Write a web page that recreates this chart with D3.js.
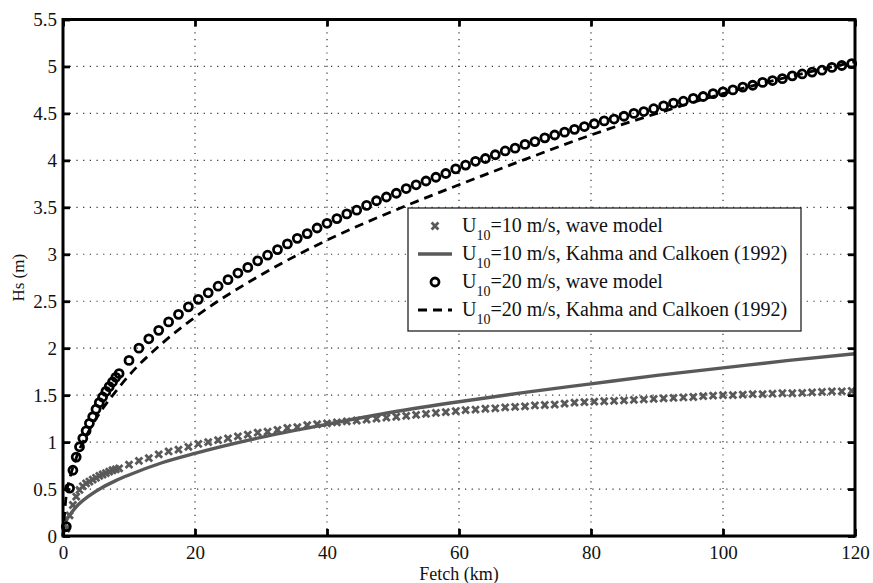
<!DOCTYPE html>
<html>
<head>
<meta charset="utf-8">
<script src="https://cdn.jsdelivr.net/npm/d3@7"></script>
<style>
    body { margin: 0; background: #fff; }
    svg { display: block; font-family: "Liberation Serif", "Times New Roman", serif; }
</style>
</head>
<body>
<div id="container"><svg></svg></div>
<script>
// fetch (km) of the wave model output points
let fetch_model = [0.5, 1, 1.5, 2, 2.5, 3, 3.5, 4, 4.5, 5, 5.5, 6, 6.5, 7, 7.5, 8, 8.5,
    10, 11.5, 13, 14.5, 16, 17.5, 19, 20.5, 22, 23.5, 25, 26.5, 28, 29.5, 31, 32.5, 34, 35.5,
    37, 38.5, 40, 41.5, 43, 44.5, 46, 47.5, 49, 50.5, 52, 53.5, 55, 56.5, 58, 59.5, 61, 62.5,
    64, 65.5, 67, 68.5, 70, 71.5, 73, 74.5, 76, 77.5, 79, 80.5, 82, 83.5, 85, 86.5, 88, 89.5,
    91, 92.5, 94, 95.5, 97, 98.5, 100, 101.5, 103, 104.5, 106, 107.5, 109, 110.5, 112, 113.5,
    115, 116.5, 118, 119.5];

// U10 = 10 m/s, wave model
let hs10_model = [0.08, 0.22, 0.33, 0.42, 0.49, 0.53, 0.56, 0.58, 0.60, 0.62, 0.64, 0.655, 0.67, 0.685, 0.70, 0.71, 0.72,
    0.76, 0.80, 0.83, 0.87, 0.90, 0.92, 0.95, 0.98, 1.00, 1.02, 1.04, 1.06, 1.08, 1.10, 1.11, 1.13, 1.15, 1.16,
    1.18, 1.19, 1.20, 1.21, 1.22, 1.23, 1.24, 1.25, 1.26, 1.27, 1.28, 1.29, 1.30, 1.31, 1.32, 1.33, 1.34, 1.345,
    1.355, 1.36, 1.37, 1.375, 1.38, 1.39, 1.395, 1.40, 1.41, 1.42, 1.425, 1.43, 1.435, 1.44, 1.445, 1.45, 1.455, 1.46,
    1.465, 1.47, 1.475, 1.48, 1.49, 1.495, 1.50, 1.50, 1.505, 1.51, 1.51, 1.515, 1.52, 1.52, 1.525, 1.53,
    1.535, 1.54, 1.54, 1.545];

// U10 = 20 m/s, wave model
let hs20_model = [0.10, 0.51, 0.70, 0.84, 0.95, 1.04, 1.12, 1.20, 1.27, 1.35, 1.42, 1.48, 1.54, 1.59, 1.64, 1.69, 1.73,
    1.87, 2.00, 2.10, 2.19, 2.28, 2.36, 2.44, 2.52, 2.59, 2.66, 2.73, 2.80, 2.86, 2.93, 2.99, 3.05, 3.11, 3.17,
    3.22, 3.28, 3.33, 3.38, 3.43, 3.47, 3.52, 3.57, 3.61, 3.65, 3.70, 3.74, 3.78, 3.82, 3.86, 3.91, 3.95, 3.99,
    4.02, 4.06, 4.10, 4.13, 4.17, 4.20, 4.24, 4.27, 4.30, 4.33, 4.36, 4.39, 4.42, 4.44, 4.47, 4.50, 4.52, 4.55,
    4.58, 4.61, 4.63, 4.66, 4.68, 4.71, 4.73, 4.75, 4.78, 4.80, 4.83, 4.85, 4.87, 4.90, 4.92, 4.94,
    4.96, 4.99, 5.01, 5.03];

// Kahma and Calkoen (1992) curves
let fetch_kc = [0, 0.5, 1, 2, 4, 6, 8, 10, 15, 20, 30, 40, 50, 60, 70, 80, 90, 100, 110, 120];
let hs10_kc = [0, 0.16, 0.22, 0.31, 0.43, 0.52, 0.59, 0.65, 0.78, 0.88, 1.05, 1.19, 1.32, 1.43, 1.53, 1.62, 1.71, 1.79, 1.87, 1.94];
let hs20_kc = [0, 0.44, 0.605, 0.83, 1.13, 1.355, 1.54, 1.71, 2.05, 2.33, 2.78, 3.15, 3.46, 3.74, 4.01, 4.27, 4.50, 4.71, 4.89, 5.05];

let x_ticks = [0, 20, 40, 60, 80, 100, 120];
let y_ticks = [0, 0.5, 1, 1.5, 2, 2.5, 3, 3.5, 4, 4.5, 5, 5.5];

let legend_labels = [
    ['=10 m/s, wave model', 'x'],
    ['=10 m/s, Kahma and Calkoen (1992)', 'solid'],
    ['=20 m/s, wave model', 'o'],
    ['=20 m/s, Kahma and Calkoen (1992)', 'dash']
];

let width = 873, height = 583;
let gray = '#595959';
let padding = { left: 63, right: 18, top: 19.5, bottom: 47 };

let svg = d3.select('#container').select('svg')
    .attr('width', width)
    .attr('height', height);

let x = d3.scaleLinear().domain([0, 120]).range([padding.left, width - padding.right]);
let y = d3.scaleLinear().domain([0, 5.5]).range([height - padding.bottom, padding.top]);

// grid
let grid = svg.append('g')
    .attr('stroke', '#333')
    .attr('stroke-width', 1.2)
    .attr('stroke-dasharray', '1.2,5.5');
grid.selectAll('.gx')
    .data(x_ticks.slice(1, -1))
    .enter().append('line')
    .attr('x1', d => x(d)).attr('x2', d => x(d))
    .attr('y1', y(0)).attr('y2', y(5.5));
grid.selectAll('.gy')
    .data(y_ticks.slice(1, -1))
    .enter().append('line')
    .attr('x1', x(0)).attr('x2', x(120))
    .attr('y1', d => y(d)).attr('y2', d => y(d));

let model10 = fetch_model.map((f, i) => [f, hs10_model[i]]);
let model20 = fetch_model.map((f, i) => [f, hs20_model[i]]);
let kc10 = fetch_kc.map((f, i) => [f, hs10_kc[i]]);
let kc20 = fetch_kc.map((f, i) => [f, hs20_kc[i]]);

let line = d3.line()
    .x(d => x(d[0]))
    .y(d => y(d[1]))
    .curve(d3.curveMonotoneX);

function xMark(g, cx, cy) {
    let s = 3.4;
    g.append('path')
        .attr('d', `M${cx - s},${cy - s}L${cx + s},${cy + s}M${cx - s},${cy + s}L${cx + s},${cy - s}`)
        .attr('stroke', gray)
        .attr('stroke-width', 2.8)
        .attr('fill', 'none');
}

let plot = svg.append('g');

// U10=10 wave model (x markers)
let g10 = plot.append('g');
model10.forEach(d => xMark(g10, x(d[0]), y(d[1])));

// U10=10 Kahma and Calkoen
plot.append('path')
    .datum(kc10)
    .attr('d', line)
    .attr('fill', 'none')
    .attr('stroke', gray)
    .attr('stroke-width', 3.4);

// U10=20 wave model (circles)
plot.append('g')
    .selectAll('circle')
    .data(model20)
    .enter().append('circle')
    .attr('cx', d => x(d[0]))
    .attr('cy', d => y(d[1]))
    .attr('r', 4)
    .attr('fill', 'none')
    .attr('stroke', '#000')
    .attr('stroke-width', 2.8);

// U10=20 Kahma and Calkoen
plot.append('path')
    .datum(kc20)
    .attr('d', line)
    .attr('fill', 'none')
    .attr('stroke', '#000')
    .attr('stroke-width', 2.8)
    .attr('stroke-dasharray', '9,6');

// axes
let axis_x = d3.axisBottom(x).tickValues(x_ticks).tickSize(-7).tickPadding(10).tickFormat(d => d);
let axis_y = d3.axisLeft(y).tickValues(y_ticks).tickSize(-7).tickPadding(6).tickFormat(d => d);
let axis_top = d3.axisTop(x).tickValues(x_ticks).tickSize(-7).tickFormat('');
let axis_right = d3.axisRight(y).tickValues(y_ticks).tickSize(-7).tickFormat('');

function styleAxis(g) {
    g.select('.domain').remove();
    g.selectAll('.tick line').attr('stroke', '#000').attr('stroke-width', 2.8);
    g.selectAll('.tick text')
        .attr('fill', '#111')
        .attr('font-size', '19px')
        .attr('font-family', '"Liberation Serif", serif');
}

svg.append('g').attr('transform', `translate(0, ${y(0)})`).call(axis_x).call(styleAxis);
svg.append('g').attr('transform', `translate(${x(0)}, 0)`).call(axis_y).call(styleAxis);
svg.append('g').attr('transform', `translate(0, ${y(5.5)})`).call(axis_top).call(styleAxis);
svg.append('g').attr('transform', `translate(${x(120)}, 0)`).call(axis_right).call(styleAxis);

svg.append('rect')
    .attr('x', x(0)).attr('y', y(5.5))
    .attr('width', x(120) - x(0)).attr('height', y(0) - y(5.5))
    .attr('fill', 'none')
    .attr('stroke', '#000')
    .attr('stroke-width', 3);

// axis labels
svg.append('text')
    .attr('x', (x(0) + x(120)) / 2)
    .attr('y', 580)
    .attr('text-anchor', 'middle')
    .attr('font-size', '18px')
    .attr('fill', '#111')
    .text('Fetch (km)');
svg.append('text')
    .attr('transform', `translate(24, ${(y(0) + y(5.5)) / 2}) rotate(-90)`)
    .attr('text-anchor', 'middle')
    .attr('font-size', '17px')
    .attr('fill', '#111')
    .text('Hs (m)');

// legend
let legend = svg.append('g');
legend.append('rect')
    .attr('x', 408).attr('y', 208)
    .attr('width', 393).attr('height', 123)
    .attr('fill', '#fff')
    .attr('stroke', '#222')
    .attr('stroke-width', 1.3);

legend_labels.forEach((d, i) => {
    let cy = 226 + i * 28;
    if (d[1] == 'x') {
        xMark(legend, 435, cy);
    } else if (d[1] == 'o') {
        legend.append('circle').attr('cx', 435).attr('cy', cy).attr('r', 4)
            .attr('fill', 'none').attr('stroke', '#000').attr('stroke-width', 2.8);
    } else {
        legend.append('line')
            .attr('x1', 418).attr('x2', 452).attr('y1', cy).attr('y2', cy)
            .attr('stroke', d[1] == 'solid' ? gray : '#000')
            .attr('stroke-width', d[1] == 'solid' ? 3.4 : 2.8)
            .attr('stroke-dasharray', d[1] == 'dash' ? '9,6' : null);
    }
    let t = legend.append('text')
        .attr('x', 462)
        .attr('y', cy + 6)
        .attr('font-size', '20px')
        .attr('fill', '#111');
    t.append('tspan').text('U');
    t.append('tspan').attr('font-size', '14px').attr('dy', 8).text('10');
    t.append('tspan').attr('dy', -8).text(d[0]);
});
</script>
</body>
</html>
